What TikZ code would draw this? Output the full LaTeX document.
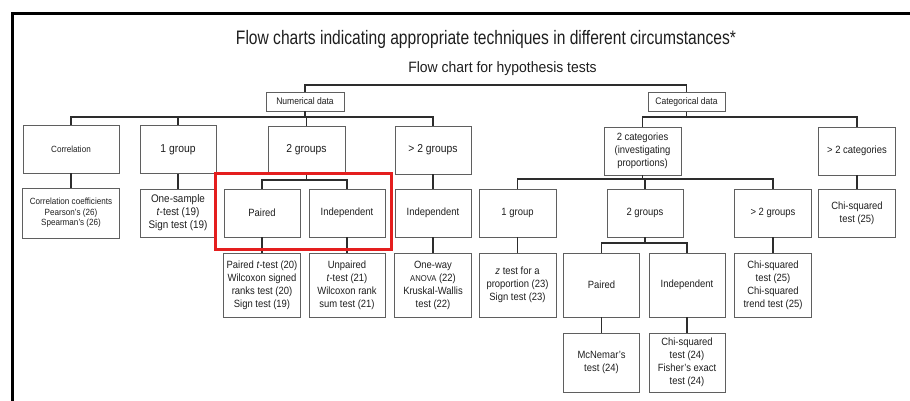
\documentclass[tikz,border=0pt]{standalone}
\usepackage{fontspec}
\setmainfont{Liberation Sans}[FakeStretch=0.9]
\newfontfamily\titlefont{Liberation Sans}[FakeStretch=0.8]
\newfontfamily\subtitlefont{Liberation Sans}[FakeStretch=0.93]
\definecolor{boxgray}{RGB}{95,95,95}
\definecolor{linec}{RGB}{45,45,45}
\definecolor{textc}{RGB}{30,30,30}
\definecolor{hlred}{RGB}{228,30,30}
\tikzset{
  box/.style={draw=boxgray, line width=0.8pt, align=center, inner sep=1pt, text=textc,
    font=\fontsize{10.5}{13}\selectfont},
  headbox/.style={box, font=\fontsize{11.5}{13}\selectfont},
  smallbox/.style={box, font=\fontsize{9}{10.5}\selectfont},
  conn/.style={draw=linec, line width=1.1pt},
  hlbox/.style={draw=hlred, line width=3pt, inner sep=0pt}
}
\begin{document}
\begin{tikzpicture}[x=1pt, y=-1pt]
\useasboundingbox (0,0) rectangle (910,401);
% frame
\draw[line width=3pt, black] (12,401) -- (12,14) -- (910,14);
% titles
\node[font=\titlefont\fontsize{19.5}{21}\selectfont, text=textc] (title) at (486,39) {Flow charts indicating appropriate techniques in different circumstances*};
\node[font=\subtitlefont\fontsize{15}{17}\selectfont, text=textc] (subtitle) at (502.5,69) {Flow chart for hypothesis tests};
% top level
\node[smallbox, font=\fontsize{9.5}{11}\selectfont, minimum width=78pt, minimum height=19pt] (num) at (305,101.5) {Numerical data};
\node[smallbox, font=\fontsize{9.5}{11}\selectfont, minimum width=77pt, minimum height=19pt] (cat) at (686.5,102) {Categorical data};
% numerical row 1
\node[smallbox, minimum width=96pt, minimum height=48pt] (corr) at (71,149) {Correlation};
\node[headbox, minimum width=76pt, minimum height=48pt] (g1) at (178,149.5) {1 group};
\node[headbox, minimum width=77pt, minimum height=48pt] (g2) at (306.5,150) {2 groups};
\node[headbox, minimum width=76pt, minimum height=48pt] (gt2) at (433,150) {> 2 groups};
% numerical row 2
\node[smallbox, minimum width=97pt, minimum height=50pt] (corrc) at (71,213) {Correlation coefficients\\Pearson's (26)\\Spearman's (26)};
\node[headbox, font=\fontsize{11}{13}\selectfont, minimum width=76pt, minimum height=48pt] (ones) at (178,213) {One-sample\\\textit{t}-test (19)\\Sign test (19)};
\node[box, minimum width=76pt, minimum height=48pt] (paired) at (262,213) {Paired};
\node[box, minimum width=76pt, minimum height=48pt] (indep) at (347,213) {Independent};
\node[box, minimum width=76pt, minimum height=48pt] (indep2) at (433,213) {Independent};
% numerical row 3
\node[box, minimum width=77pt, minimum height=64pt] (pt) at (262,285) {Paired \textit{t}-test (20)\\Wilcoxon signed\\ranks test (20)\\Sign test (19)};
\node[box, minimum width=76pt, minimum height=64pt] (up) at (347,285) {Unpaired\\\textit{t}-test (21)\\Wilcoxon rank\\sum test (21)};
\node[box, minimum width=77pt, minimum height=64pt] (ow) at (433,285) {One-way\\{\fontsize{8.5}{13}\selectfont ANOVA} (22)\\Kruskal-Wallis\\test (22)};
% categorical row 1
\node[box, minimum width=77pt, minimum height=48pt] (cat2) at (642.5,151) {2 categories\\(investigating\\proportions)};
\node[box, minimum width=77pt, minimum height=48pt] (catgt2) at (857,151) {> 2 categories};
% categorical row 2
\node[box, minimum width=77pt, minimum height=48pt] (cg1) at (517.5,213) {1 group};
\node[box, minimum width=76pt, minimum height=48pt] (cg2) at (645,213) {2 groups};
\node[box, minimum width=77pt, minimum height=48pt] (cgt2) at (773,213) {> 2 groups};
\node[box, minimum width=77pt, minimum height=48pt] (chi25) at (857,213) {Chi-squared\\test (25)};
% categorical row 3
\node[box, minimum width=77pt, minimum height=64pt] (zt) at (517.5,285) {\textit{z} test for a\\proportion (23)\\Sign test (23)};
\node[box, minimum width=76pt, minimum height=64pt] (cp) at (601.5,285) {Paired};
\node[box, minimum width=76pt, minimum height=64pt] (ci) at (687,285) {Independent};
\node[box, minimum width=77pt, minimum height=64pt] (chi2t) at (773,285) {Chi-squared\\test (25)\\Chi-squared\\trend test (25)};
% categorical row 4
\node[box, minimum width=76pt, minimum height=59pt] (mcn) at (601.5,362.5) {McNemar's\\test (24)};
\node[box, minimum width=76pt, minimum height=59pt] (fish) at (687,362.5) {Chi-squared\\test (24)\\Fisher's exact\\test (24)};
% connectors
\coordinate (tb) at (495,85);
\draw[conn] (num.north) |- (tb) -| (cat.north);
\coordinate (nb) at (305,117);
\draw[conn] (corr.north) |- (nb) -| (gt2.north);
\draw[conn] (num.south) -- (num.south |- nb);
\draw[conn] (g1.north) -- (g1.north |- nb);
\draw[conn] (g2.north) -- (g2.north |- nb);
\draw[conn] (corr.south) -- (corrc.north);
\draw[conn] (g1.south) -- (ones.north);
\coordinate (g2b) at (306.5,180);
\draw[conn] (g2.south) -- (g2b);
\draw[conn] (paired.north) |- (g2b) -| (indep.north);
\draw[conn] (gt2.south) -- (indep2.north);
\draw[conn] (paired.south) -- (pt.north);
\draw[conn] (indep.south) -- (up.north);
\draw[conn] (indep2.south) -- (ow.north);
\coordinate (cb) at (686.5,117);
\draw[conn] (cat.south) -- (cb);
\draw[conn] (cat2.north) |- (cb) -| (catgt2.north);
\coordinate (c2b) at (642.5,179);
\draw[conn] (cat2.south) -- (c2b);
\draw[conn] (cg1.north) |- (c2b) -| (cgt2.north);
\draw[conn] (cg2.north) -- (cg2.north |- c2b);
\draw[conn] (catgt2.south) -- (chi25.north);
\draw[conn] (cg1.south) -- (zt.north);
\draw[conn] (cgt2.south) -- (chi2t.north);
\coordinate (cg2b) at (645,243);
\draw[conn] (cg2.south) -- (cg2b);
\draw[conn] (cp.north) |- (cg2b) -| (ci.north);
\draw[conn] (cp.south) -- (mcn.north);
\draw[conn] (ci.south) -- (fish.north);
% highlight
\node[hlbox, minimum width=176pt, minimum height=76pt] (hl) at (303,211) {};
\end{tikzpicture}
\end{document}
